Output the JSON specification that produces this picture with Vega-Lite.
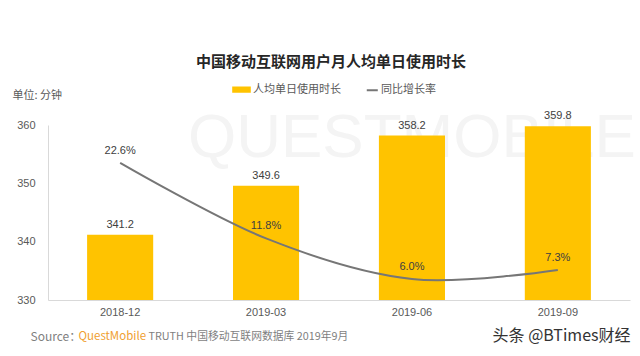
{
  "$schema": "https://vega.github.io/schema/vega-lite/v6.json",
  "width": 582,
  "height": 175,
  "autosize": {"type": "none"},
  "padding": {"left": 48, "top": 125, "right": 10, "bottom": 56},
  "background": "white",
  "config": {"view": {"stroke": null}, "font": "Noto Sans CJK SC"},
  "title": {
    "text": "中国移动互联网用户月人均单日使用时长",
    "fontSize": 15,
    "fontWeight": "bold",
    "color": "#262626",
    "font": "Noto Sans CJK SC",
    "anchor": "middle",
    "offset": 10,
    "dx": -8
  },
  "data": {
    "values": [
      {"month": "2018-12", "minutes": 341.2, "yoy": 22.6, "yoyLabel": "22.6%"},
      {"month": "2019-03", "minutes": 349.6, "yoy": 11.8, "yoyLabel": "11.8%"},
      {"month": "2019-06", "minutes": 358.2, "yoy": 6.0, "yoyLabel": "6.0%"},
      {"month": "2019-09", "minutes": 359.8, "yoy": 7.3, "yoyLabel": "7.3%"}
    ]
  },
  "resolve": {"scale": {"y": "independent"}, "axis": {"x": "independent", "y": "independent"}},
  "layer": [
    {
      "resolve": {"axis": {"x": "independent", "y": "independent"}},
      "layer": [
        {
          "data": {"values": [{"wm": "QUESTMOBILE"}]},
          "mark": {"type": "text", "font": "Liberation Sans", "fontSize": 62, "color": "#f4f4f4", "align": "center", "baseline": "middle"},
          "encoding": {
            "x": {"datum": "2019-06", "type": "nominal", "scale": {"type": "band", "paddingInner": 0.547, "paddingOuter": 0.268}, "axis": null},
            "y": {"datum": 357.8, "type": "quantitative", "scale": {"domain": [330, 360], "zero": false, "nice": false}, "axis": null},
            "text": {"field": "wm"}
          }
        },
        {
          "mark": {"type": "bar"},
          "encoding": {
            "x": {
              "field": "month", "type": "nominal",
              "scale": {"type": "band", "paddingInner": 0.547, "paddingOuter": 0.268},
              "axis": {
                "orient": "bottom", "title": "Source：", "titleX": -18, "titleY": 36,
                "titleAlign": "left", "titleBaseline": "middle", "titleFont": "Noto Sans CJK SC",
                "titleFontSize": 12, "titleFontWeight": "normal", "titleColor": "#7f7f7f",
                "labelAngle": 0, "labelFont": "Liberation Sans", "labelFontSize": 11,
                "labelColor": "#595959", "labelPadding": 6, "ticks": false,
                "domainColor": "#d9d9d9", "grid": false
              }
            },
            "y": {
              "field": "minutes", "type": "quantitative",
              "scale": {"domain": [330, 360], "zero": false, "nice": false},
              "axis": {
                "orient": "left", "values": [330, 340, 350, 360], "grid": false, "ticks": false,
                "domainColor": "#d9d9d9", "labelColor": "#595959", "labelFont": "Liberation Sans",
                "labelFontSize": 11, "labelPadding": 13,
                "title": "单位: 分钟", "titleAngle": 0, "titleX": -36, "titleY": -30,
                "titleAlign": "left", "titleBaseline": "middle", "titleFontSize": 11,
                "titleFontWeight": "normal", "titleColor": "#595959", "titleFont": "Noto Sans CJK SC"
              }
            },
            "y2": {"datum": 330},
            "color": {
              "datum": "人均单日使用时长", "type": "nominal",
              "scale": {"domain": ["人均单日使用时长", "同比增长率"], "range": ["#FFC300", "#767676"]},
              "legend": {
                "orient": "none", "legendX": 184, "legendY": -45, "direction": "horizontal",
                "title": null, "padding": 0, "labelFont": "Noto Sans CJK SC", "labelFontSize": 11,
                "labelColor": "#595959", "labelOffset": 2, "columnPadding": 19, "symbolSize": 275,
                "encode": {
                  "symbols": {
                    "update": {
                      "shape": {"signal": "datum.label === '同比增长率' ? 'M-0.33,0H1' : 'M-1,-0.27H1V0.27H-1Z'"},
                      "fill": {"signal": "datum.label === '同比增长率' ? 'transparent' : '#FFC300'"},
                      "stroke": {"signal": "datum.label === '同比增长率' ? '#767676' : 'transparent'"},
                      "strokeWidth": {"value": 2}
                    }
                  }
                }
              }
            }
          }
        },
        {
          "mark": {"type": "text", "font": "Liberation Sans", "fontSize": 11, "color": "#404040", "baseline": "middle", "dy": -10},
          "encoding": {
            "x": {"field": "month", "type": "nominal", "scale": {"type": "band", "paddingInner": 0.547, "paddingOuter": 0.268}, "axis": null},
            "y": {"field": "minutes", "type": "quantitative", "axis": null},
            "text": {"field": "minutes", "format": ".1f"}
          }
        }
      ]
    },
    {
      "resolve": {"axis": {"x": "independent", "y": "independent"}},
      "layer": [
        {
          "mark": {"type": "line", "interpolate": "cardinal", "strokeWidth": 2},
          "encoding": {
            "x": {
              "field": "month", "type": "nominal",
              "scale": {"type": "band", "paddingInner": 0.547, "paddingOuter": 0.268},
              "axis": {
                "orient": "bottom", "labels": false, "ticks": false, "domain": false, "grid": false,
                "title": "QuestMobile", "titleX": 30, "titleY": 36, "titleAlign": "left",
                "titleBaseline": "middle", "titleColor": "#F0A030", "titleFontSize": 11.5,
                "titleFontWeight": "normal", "titleFont": "Noto Sans CJK SC"
              }
            },
            "y": {
              "field": "yoy", "type": "quantitative",
              "scale": {"domain": [3, 28], "zero": false, "nice": false},
              "axis": {
                "orient": "right", "labels": false, "ticks": false, "domain": false, "grid": false,
                "title": "头条 @BTimes财经", "titleAngle": 0, "titleX": 0, "titleY": 210,
                "titleAlign": "right", "titleBaseline": "middle", "titleFontSize": 16,
                "titleFontWeight": "normal", "titleColor": "#333333", "titleFont": "Noto Sans CJK SC"
              }
            },
            "color": {"datum": "同比增长率", "type": "nominal"}
          }
        },
        {
          "mark": {"type": "text", "font": "Liberation Sans", "fontSize": 11, "color": "#404040", "baseline": "middle", "dy": -12},
          "encoding": {
            "x": {
              "field": "month", "type": "nominal",
              "scale": {"type": "band", "paddingInner": 0.547, "paddingOuter": 0.268},
              "axis": {
                "orient": "bottom", "labels": false, "ticks": false, "domain": false, "grid": false,
                "title": "TRUTH 中国移动互联网数据库 2019年9月", "titleX": 100, "titleY": 36, "titleAlign": "left",
                "titleBaseline": "middle", "titleColor": "#7f7f7f", "titleFontSize": 10.8,
                "titleFontWeight": "normal", "titleFont": "Noto Sans CJK SC"
              }
            },
            "y": {"field": "yoy", "type": "quantitative", "axis": null},
            "text": {"field": "yoyLabel"}
          }
        }
      ]
    }
  ]
}
